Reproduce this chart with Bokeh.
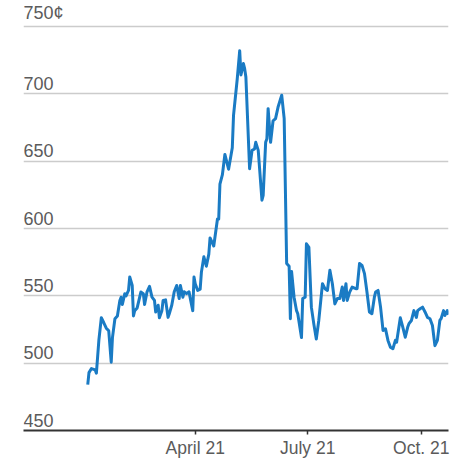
import pandas as pd
from bokeh.plotting import figure
from bokeh.models import FixedTicker, Label, Range1d
from bokeh.embed import file_html
from bokeh.resources import INLINE

# Price in cents, 2021
dates = [
    "2021-01-04", "2021-01-05", "2021-01-07", "2021-01-10", "2021-01-11", "2021-01-13",
    "2021-01-15", "2021-01-17", "2021-01-19", "2021-01-21", "2021-01-23", "2021-01-24",
    "2021-01-26", "2021-01-28", "2021-01-30", "2021-01-31", "2021-02-01", "2021-02-03",
    "2021-02-04", "2021-02-06", "2021-02-07", "2021-02-09", "2021-02-10", "2021-02-11",
    "2021-02-13", "2021-02-16", "2021-02-18", "2021-02-19", "2021-02-21", "2021-02-23",
    "2021-02-25", "2021-02-27", "2021-02-28", "2021-03-02", "2021-03-03", "2021-03-05",
    "2021-03-06", "2021-03-08", "2021-03-10", "2021-03-11", "2021-03-13", "2021-03-15",
    "2021-03-17", "2021-03-19", "2021-03-20", "2021-03-22", "2021-03-23", "2021-03-25",
    "2021-03-27", "2021-03-28", "2021-03-30", "2021-03-31", "2021-04-01", "2021-04-03",
    "2021-04-05", "2021-04-06", "2021-04-08", "2021-04-10", "2021-04-12", "2021-04-13",
    "2021-04-16", "2021-04-19", "2021-04-20", "2021-04-21", "2021-04-23", "2021-04-25",
    "2021-04-28", "2021-05-01", "2021-05-02", "2021-05-05", "2021-05-07", "2021-05-08",
    "2021-05-10", "2021-05-11", "2021-05-12", "2021-05-15", "2021-05-17", "2021-05-19",
    "2021-05-20", "2021-05-22", "2021-05-25", "2021-05-26", "2021-05-28", "2021-05-29",
    "2021-05-30", "2021-06-01", "2021-06-03", "2021-06-05", "2021-06-07", "2021-06-10",
    "2021-06-12", "2021-06-14", "2021-06-16", "2021-06-17", "2021-06-18", "2021-06-20",
    "2021-06-22", "2021-06-23", "2021-06-26", "2021-06-27", "2021-06-29", "2021-06-30",
    "2021-07-02", "2021-07-04", "2021-07-06", "2021-07-08", "2021-07-10", "2021-07-13",
    "2021-07-15", "2021-07-17", "2021-07-19", "2021-07-21", "2021-07-23", "2021-07-25",
    "2021-07-27", "2021-07-29", "2021-07-30", "2021-08-01", "2021-08-02", "2021-08-04",
    "2021-08-06", "2021-08-09", "2021-08-10", "2021-08-12", "2021-08-14", "2021-08-16",
    "2021-08-18", "2021-08-20", "2021-08-22", "2021-08-24", "2021-08-25", "2021-08-27",
    "2021-08-29", "2021-08-31", "2021-09-02", "2021-09-04", "2021-09-06", "2021-09-08",
    "2021-09-10", "2021-09-11", "2021-09-14", "2021-09-16", "2021-09-18", "2021-09-20",
    "2021-09-21", "2021-09-23", "2021-09-25", "2021-09-27", "2021-09-28", "2021-09-30",
    "2021-10-02", "2021-10-04", "2021-10-06", "2021-10-08", "2021-10-10", "2021-10-12",
    "2021-10-14", "2021-10-16", "2021-10-17", "2021-10-19", "2021-10-20", "2021-10-22",
    "2021-10-23",
]
prices = [
    484, 493, 496, 495, 492.6, 517,
    533.7, 530, 526, 524, 500.7, 519,
    533, 535, 546.6, 549, 543.6, 551.6,
    550, 554, 564, 557.7, 535, 539,
    541, 552.8, 551.6, 543.6, 553, 557,
    549, 546.6, 538, 543, 533.7, 539,
    546.6, 547, 534, 536.7, 543, 553,
    557.7, 548, 557.7, 549, 553, 551.6,
    553, 548, 539, 564, 559, 554,
    555, 567.6, 579, 572, 581, 593,
    587, 607, 607, 633, 640, 655,
    644, 660, 684, 711, 732, 714,
    722.5, 718.7, 712.5, 644.4, 658, 659,
    664, 658, 621, 624.6, 664, 666.7,
    689, 664, 680, 681.6, 690, 699,
    681.6, 574, 572, 533, 568, 549,
    539, 536.7, 519, 548, 549, 588.7,
    586, 541.6, 529, 518, 531.7, 559,
    555.3, 554, 569, 559, 544, 548,
    548, 556.5, 546.6, 559, 546.6, 552.8,
    556.5, 555.3, 555.3, 574, 572.6, 566.5,
    552.8, 538, 536.7, 549, 552.8, 554,
    541.6, 524.3, 525.5, 516.9, 511.9, 510.7,
    516.9, 515.6, 533.7, 526.8, 519.3, 526.8,
    529.3, 531.7, 539, 534, 539, 540.4,
    541.6, 538, 534, 533, 528, 513,
    516.9, 531.7, 533, 539, 535.4, 539,
    536,
]

y_ticks = [450, 500, 550, 600, 650, 700, 750]
y_labels = ["450", "500", "550", "600", "650", "700", "750\u00a2"]
x_tick_dates = ["2021-04-01", "2021-07-01", "2021-10-01"]
x_tick_labels = ["April 21", "July 21", "Oct. 21"]

x_start = pd.Timestamp("2020-11-13")
x_end = pd.Timestamp("2021-10-23")

TEXT = "#5b5b5b"
FONT = "Liberation Sans"

p = figure(
    x_axis_type="datetime",
    frame_width=425, frame_height=425,
    x_range=Range1d(start=x_start, end=x_end),
    y_range=Range1d(start=450, end=765.6),
    output_backend="svg", toolbar_location=None,
    min_border=0,
)
p.min_border_left = 23
p.min_border_right = 10
p.min_border_top = 5
p.min_border_bottom = 31
p.outline_line_color = None
p.background_fill_color = "white"
p.border_fill_color = "white"

# horizontal gridlines only
p.xgrid.visible = False
p.ygrid.ticker = FixedTicker(ticks=y_ticks)
p.ygrid.grid_line_color = "#cccccc"
p.ygrid.grid_line_width = 1.6
p.yaxis.visible = False

# bottom axis: dark baseline with month ticks
tick_ms = [pd.Timestamp(d).value / 1e6 for d in x_tick_dates]
xa = p.xaxis[0]
xa.ticker = FixedTicker(ticks=tick_ms)
xa.major_label_overrides = {t: lab for t, lab in zip(tick_ms, x_tick_labels)}
xa.axis_line_color = "#333333"
xa.axis_line_width = 2
xa.major_tick_line_color = "#333333"
xa.major_tick_line_width = 1.5
xa.major_tick_in = 0
xa.major_tick_out = 4
xa.minor_tick_line_color = None
xa.major_label_standoff = 3
xa.major_label_text_font = FONT
xa.major_label_text_font_size = "17.5px"
xa.major_label_text_color = TEXT

p.line(pd.to_datetime(dates), prices, line_color="#1a7bc4", line_width=3,
       line_join="round")

# value labels sitting just above the gridlines at the left edge
start_ms = x_start.value / 1e6
for v, lab in zip(y_ticks, y_labels):
    p.add_layout(Label(
        x=start_ms, y=v, text=lab, y_offset=4,
        text_font=FONT, text_font_size="18px", text_color=TEXT,
        text_baseline="bottom", text_align="left",
    ))

open("out.html", "w").write(file_html(p, INLINE))
